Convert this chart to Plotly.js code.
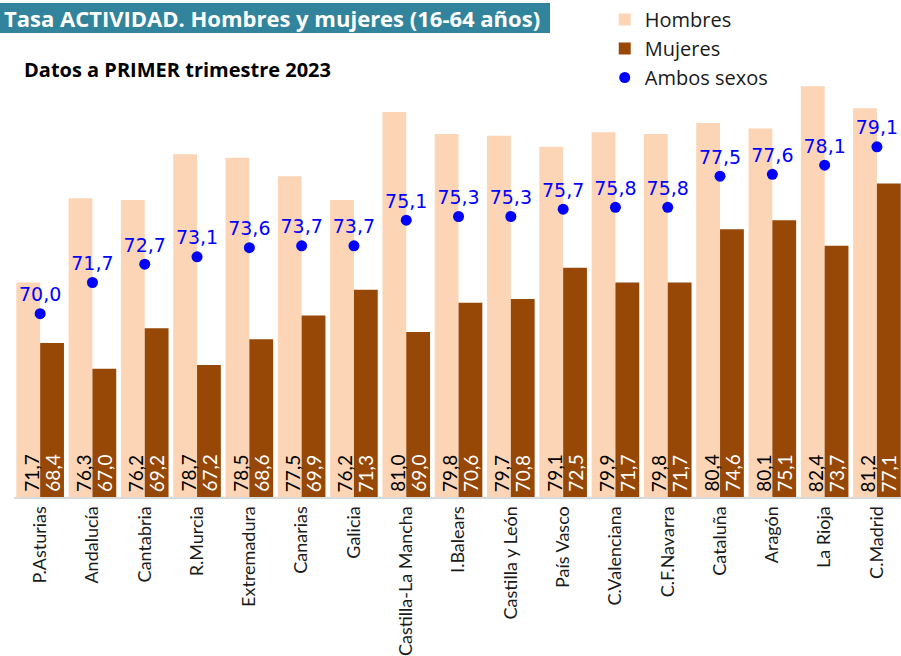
<!DOCTYPE html>
<html>
<head>
<meta charset="utf-8">
<script src="https://cdn.plot.ly/plotly-3.0.1.min.js"></script>
<style>html,body{margin:0;padding:0;overflow:hidden;background:#fff}</style>
</head>
<body>
<div id="chart" style="width:901px;height:656px"></div>
<script>
const categories = ["P.Asturias","Andalucía","Cantabria","R.Murcia","Extremadura","Canarias","Galicia","Castilla-La Mancha","I.Balears","Castilla y León","País Vasco","C.Valenciana","C.F.Navarra","Cataluña","Aragón","La Rioja","C.Madrid"];
const hombres = [71.7,76.3,76.2,78.7,78.5,77.5,76.2,81.0,79.8,79.7,79.1,79.9,79.8,80.4,80.1,82.4,81.2];
const mujeres = [68.4,67.0,69.2,67.2,68.6,69.9,71.3,69.0,70.6,70.8,72.5,71.7,71.7,74.6,75.1,73.7,77.1];
const ambos = [70.0,71.7,72.7,73.1,73.6,73.7,73.7,75.1,75.3,75.3,75.7,75.8,75.8,77.5,77.6,78.1,79.1];

const fmt = v => v.toFixed(1).replace('.', ',');

const traces = [
  {type:'bar', name:'Hombres', x:categories, y:hombres, marker:{color:'#FBD5B5'}, hoverinfo:'skip'},
  {type:'bar', name:'Mujeres', x:categories, y:mujeres, marker:{color:'#974806'}, hoverinfo:'skip'},
  {type:'scatter', mode:'markers+text', name:'Ambos sexos', x:categories, y:ambos,
   marker:{color:'#0000FF', size:11}, text:ambos.map(fmt), textposition:'top center',
   textfont:{family:'DejaVu Sans', size:19, color:'#0000FF'}, cliponaxis:false, hoverinfo:'skip'}
];

const annotations = [];
categories.forEach((c,i)=>{
  annotations.push({x:c, y:60, xref:'x', yref:'y', text:fmt(hombres[i]), showarrow:false,
    textangle:-90, xanchor:'center', yanchor:'bottom', xshift:-9, yshift:3,
    font:{family:'Lato', size:19, color:'#000000'}});
  annotations.push({x:c, y:60, xref:'x', yref:'y', text:fmt(mujeres[i]), showarrow:false,
    textangle:-90, xanchor:'center', yanchor:'bottom', xshift:12, yshift:3,
    font:{family:'Lato', size:19, color:'#FFFFFF'}});
});
annotations.push({xref:'paper', yref:'paper', x:-0.0135, y:1.088, xanchor:'left', yanchor:'middle',
  text:'<b>Tasa ACTIVIDAD. Hombres y mujeres (16-64 años)</b>', showarrow:false,
  font:{family:'Open Sans', size:22, color:'#FFFFFF'}});
annotations.push({xref:'paper', yref:'paper', x:0.009, y:0.972, xanchor:'left', yanchor:'middle',
  text:'<b>Datos a PRIMER trimestre 2023</b>', showarrow:false,
  font:{family:'Open Sans', size:20, color:'#000000'}});

const layout = {
  width:901, height:656,
  margin:{l:14, r:0, t:57, b:159, autoexpand:false},
  paper_bgcolor:'#FFFFFF', plot_bgcolor:'#FFFFFF',
  separators:',.',
  barmode:'group', bargap:0.09, bargroupgap:0,
  showlegend:true,
  legend:{x:0.666, y:1.004, xref:'paper', yref:'container', xanchor:'left', yanchor:'top', bgcolor:'rgba(0,0,0,0)',
    font:{family:'Open Sans', size:20, color:'#1a1a1a'}, tracegroupgap:0},
  xaxis:{type:'category', range:[-0.5,16.46], showline:true, linecolor:'#D9D9D9', linewidth:2,
    ticks:'', tickangle:-90, tickfont:{family:'Lato', size:18, color:'#1a1a1a'},
    showgrid:false, zeroline:false, fixedrange:true},
  yaxis:{range:[60,84], showgrid:false, zeroline:false, showticklabels:false, showline:false, ticks:'', fixedrange:true},
  shapes:[{type:'rect', xref:'paper', yref:'paper', x0:-0.0158, x1:0.6043, y0:1.0545, y1:1.1227,
    fillcolor:'#31849B', line:{width:0}, layer:'above'}],
  annotations:annotations
};

Plotly.newPlot('chart', traces, layout, {displayModeBar:false, staticPlot:true});
</script>
</body>
</html>
